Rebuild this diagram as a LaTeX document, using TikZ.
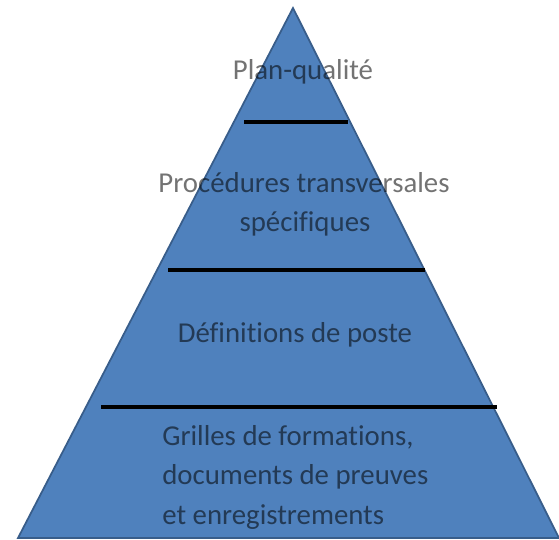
\documentclass[tikz,border=0pt]{standalone}
\usepackage{fontspec}
\setmainfont[Ligatures=NoCommon]{Carlito}

\definecolor{pyrfill}{HTML}{4F81BD}
\definecolor{pyredge}{HTML}{385D8A}

\tikzset{
  level/.style={font=\fontsize{16.4}{19}\selectfont, text opacity=0.55, inner sep=0pt},
  sep/.style={line width=2.4pt, black}
}

\begin{document}
\begin{tikzpicture}[x=0.02cm, y=-0.02cm]
  \useasboundingbox (0,0) rectangle (559,540);

  % pyramid
  \coordinate (top) at (293,8);
  \coordinate (bl) at (18,538);
  \coordinate (br) at (559,538);
  \draw[pyredge, fill=pyrfill, line width=1pt, line join=miter] (top) -- (bl) -- (br) -- cycle;

  % separators
  \coordinate (s1l) at (244,122); \coordinate (s1r) at (348,122);
  \coordinate (s2l) at (168,270); \coordinate (s2r) at (425,270);
  \coordinate (s3l) at (101,407); \coordinate (s3r) at (497,407);
  \draw[sep] (s1l) -- (s1r);
  \draw[sep] (s2l) -- (s2r);
  \draw[sep] (s3l) -- (s3r);

  % labels
  \node[level] (plan) at (303,72) {Plan-qualité};
  \node[level] (proc) at (304,183) {Procédures transversales};
  \node[level] (spec) at (305,224) {spécifiques};
  \node[level] (def) at (295,335) {Définitions de poste};
  \node[level, anchor=west] (gril) at (162,437) {Grilles de formations,};
  \node[level, anchor=west] (docs) at (162,477) {documents de preuves};
  \node[level, anchor=west] (enreg) at (162,517) {et enregistrements};
\end{tikzpicture}
\end{document}
